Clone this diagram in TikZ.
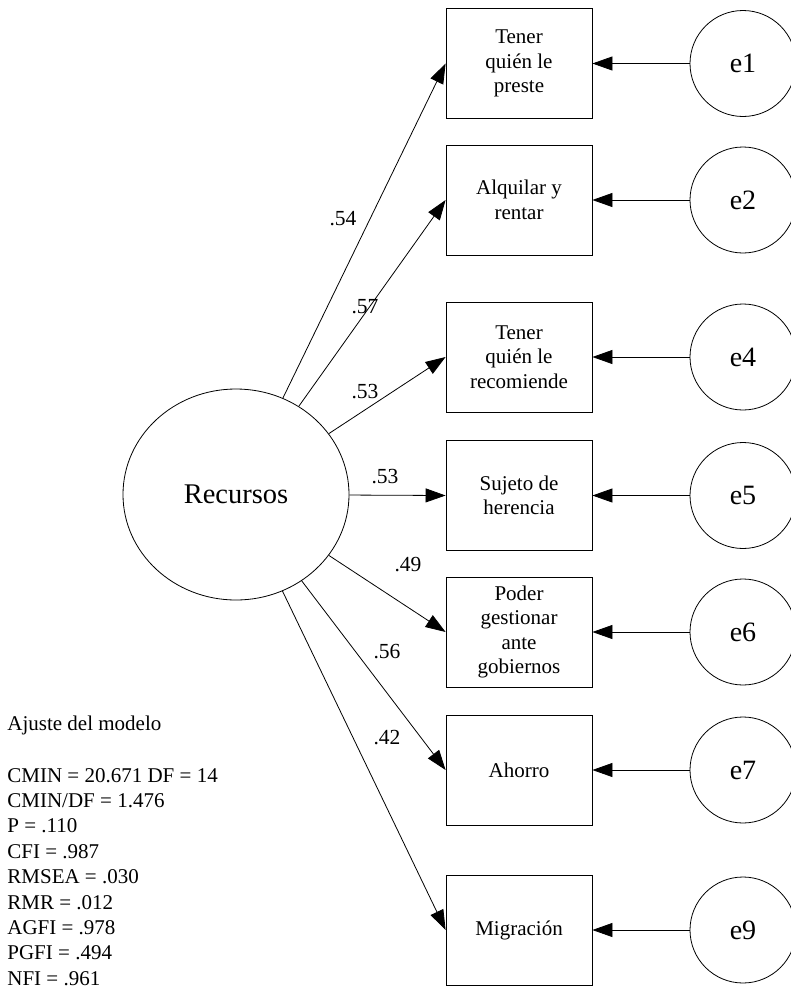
\documentclass[tikz,border=0pt]{standalone}
\usepackage{fontspec}
\setmainfont{Liberation Serif}
\usepackage{tikz}
\usetikzlibrary{arrows.meta}
\usetikzlibrary{shapes.geometric}

\begin{document}
\begin{tikzpicture}[x=1pt, y=-1pt, line width=0.8pt,
  obs/.style={draw, rectangle, minimum width=146pt, minimum height=110pt, inner sep=0pt, align=center, font=\fontsize{21}{24.5}\selectfont},
  err/.style={draw, circle, minimum size=106pt, inner sep=0pt, font=\fontsize{28}{28}\selectfont},
  load/.style={inner sep=0pt, font=\fontsize{21.5}{21.5}\selectfont},
  arr/.style={-{Triangle[length=20pt,width=14pt]}}]
\useasboundingbox (0,0) rectangle (791,988);
\coordinate (o) at (236,494.5);
\coordinate (b1) at (519,63.5);
\coordinate (b2) at (519,200);
\coordinate (b4) at (519,357);
\coordinate (b5) at (519,495.5);
\coordinate (b6) at (519,632);
\coordinate (b7) at (519,770);
\coordinate (b9) at (519,930);
% draws latent variable
\node[draw, ellipse, minimum width=226pt, minimum height=211pt, inner sep=0pt, font=\fontsize{28.5}{28.5}\selectfont] (rec) at (o) {Recursos};
% draws observed variables
\node[obs] (obs1) at (b1) {Tener\\quién le\\preste};
\node[obs] (obs2) at (b2) {Alquilar y\\rentar};
\node[obs] (obs4) at (b4) {Tener\\quién le\\recomiende};
\node[obs] (obs5) at (b5) {Sujeto de\\herencia};
\node[obs] (obs6) at (b6) {Poder\\gestionar\\ante\\gobiernos};
\node[obs] (obs7) at (b7) {Ahorro};
\node[obs] (obs9) at (b9) {Migración};
% draws errors
\node[err] (e1) at (743,63.5) {e1};
\node[err] (e2) at (743,200) {e2};
\node[err] (e4) at (743,357) {e4};
\node[err] (e5) at (743,495.5) {e5};
\node[err] (e6) at (743,632) {e6};
\node[err] (e7) at (743,770) {e7};
\node[err] (e9) at (743,930) {e9};
% draws loadings
\draw[arr] (rec) -- (obs1.west);
\draw[arr] (rec) -- (obs2.west);
\draw[arr] (rec) -- (obs4.west);
\draw[arr] (rec) -- (obs5.west);
\draw[arr] (rec) -- (obs6.west);
\draw[arr] (rec) -- (obs7.west);
\draw[arr] (rec) -- (obs9.west);
% draws error paths
\draw[arr] (e1) -- (obs1.east);
\draw[arr] (e2) -- (obs2.east);
\draw[arr] (e4) -- (obs4.east);
\draw[arr] (e5) -- (obs5.east);
\draw[arr] (e6) -- (obs6.east);
\draw[arr] (e7) -- (obs7.east);
\draw[arr] (e9) -- (obs9.east);
% labels loadings
\node[load] (w1) at (343,219) {.54};
\node[load] (w2) at (365,307) {.57};
\node[load] (w4) at (365,392) {.53};
\node[load] (w5) at (385,477) {.53};
\node[load] (w6) at (408,565) {.49};
\node[load] (w7) at (387,652) {.56};
\node[load] (w9) at (387,738) {.42};
% model fit
\node[anchor=west, align=left, inner sep=0pt, font=\fontsize{21}{25.4}\selectfont] (fit) at (7,850.5) {Ajuste del modelo\\[26.6pt]CMIN = 20.671 DF = 14\\CMIN/DF = 1.476\\P = .110\\CFI = .987\\RMSEA = .030\\RMR = .012\\AGFI = .978\\PGFI = .494\\NFI = .961};
\end{tikzpicture}
\end{document}
